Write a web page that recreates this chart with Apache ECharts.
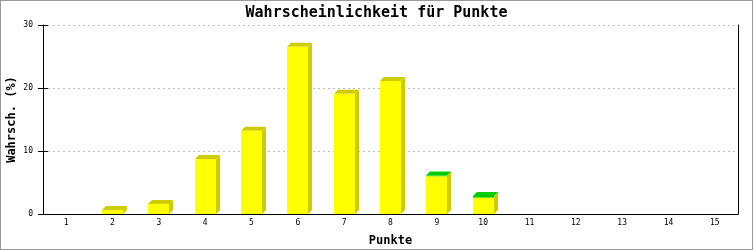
<!DOCTYPE html>
<html>
<head>
<meta charset="utf-8">
<script src="https://cdn.jsdelivr.net/npm/echarts@6/dist/echarts.min.js"></script>
<style>
html,body{margin:0;padding:0;background:#fff;}
#wrap{width:753px;height:250px;box-sizing:border-box;border:1px solid #999;position:relative;overflow:hidden;}
#c{position:absolute;left:-1px;top:-1px;width:753px;height:250px;}
</style>
</head>
<body>
<div id="wrap"><div id="c"></div></div>
<script>
const titleText = 'Wahrscheinlichkeit für Punkte';
const xName = 'Punkte';
const yName = 'Wahrsch. (%)';
const categories = ['1','2','3','4','5','6','7','8','9','10','11','12','13','14','15'];
const yellowValues = [0, 0.64, 1.6, 8.75, 13.2, 26.55, 19.1, 21.1, 6.0, 2.6, 0, 0, 0, 0, 0];
const greenValues  = [0, 0, 0, 0, 0, 0, 0, 0, 0.1, 0.27, 0, 0, 0, 0, 0];
const yTicks = [0, 10, 20, 30];

const mono = '"DejaVu Sans Mono", "Liberation Mono", monospace';
const data = categories.map((c, i) => [c, yellowValues[i], greenValues[i]]);

const chart = echarts.init(document.getElementById('c'), null, {renderer: 'canvas'});
const yMin = yTicks[0], yMax = yTicks[yTicks.length - 1], yInt = yTicks[1] - yTicks[0];

chart.setOption({
  animation: false,
  backgroundColor: '#fff',
  title: {
    text: titleText, left: 'center', top: 6, padding: 0,
    textStyle: {fontFamily: mono, fontWeight: 'bold', fontSize: 15, color: '#000'}
  },
  grid: {left: 43, right: 15, top: 25, bottom: 36, containLabel: false, outerBoundsMode: 'none'},
  xAxis: {
    type: 'category', data: categories, boundaryGap: true,
    name: xName, nameLocation: 'middle', nameGap: 21, nameMoveOverlap: false,
    nameTextStyle: {fontFamily: mono, fontWeight: 'bold', fontSize: 12, color: '#000'},
    axisLine: {show: true, lineStyle: {color: '#000', width: 1}},
    axisTick: {show: false},
    axisLabel: {fontFamily: mono, fontSize: 8, color: '#000', margin: 5},
    splitLine: {show: false}
  },
  yAxis: [{
    type: 'value', min: yMin, max: yMax, interval: yInt, position: 'left',
    name: yName, nameLocation: 'middle', nameGap: 25, nameRotate: 90, nameMoveOverlap: false,
    nameTextStyle: {fontFamily: mono, fontWeight: 'bold', fontSize: 12, color: '#000'},
    axisLine: {show: true, lineStyle: {color: '#000', width: 1}},
    axisTick: {show: true, inside: false, length: 5, lineStyle: {color: '#000'}},
    axisLabel: {fontFamily: mono, fontSize: 8, color: '#000', margin: 10},
    splitLine: {show: true, lineStyle: {color: '#bbb', type: [2, 3], width: 1}}
  }, {
    type: 'value', min: yMin, max: yMax, interval: yInt, position: 'left', offset: 0,
    axisLine: {show: false},
    axisTick: {show: true, inside: true, length: 5, lineStyle: {color: '#000'}},
    axisLabel: {show: false}, splitLine: {show: false}
  }, {
    type: 'value', min: yMin, max: yMax, interval: yInt, position: 'right', offset: 0,
    axisLine: {show: true, lineStyle: {color: '#000', width: 1}},
    axisTick: {show: false}, axisLabel: {show: false}, splitLine: {show: false}
  }],
  series: [{
    type: 'custom',
    data: data,
    encode: {x: 0, y: 1},
    renderItem: function (params, api) {
      const yv = api.value(1), gv = api.value(2);
      if (yv + gv <= 0) return null;
      const base = api.coord([api.value(0), 0]);
      const yTop = api.coord([api.value(0), yv])[1];
      const gTop = api.coord([api.value(0), yv + gv])[1];
      const w = 21, d = 4;
      const x0 = Math.round(base[0] - w / 2), x1 = x0 + w;
      const by = base[1];
      const topColor = gv > 0 ? '#00cc00' : '#cccc00';
      const children = [
        {type: 'polygon', shape: {points: [[x1, gTop], [x1 + d, gTop - d], [x1 + d, by - d], [x1, by]]}, style: {fill: '#cccc00'}},
        {type: 'polygon', shape: {points: [[x0, gTop], [x0 + d, gTop - d], [x1 + d, gTop - d], [x1, gTop]]}, style: {fill: topColor}},
        {type: 'rect', shape: {x: x0, y: yTop, width: w, height: by - yTop}, style: {fill: '#ffff00'}}
      ];
      if (gv > 0) {
        children.push({type: 'rect', shape: {x: x0, y: gTop, width: w, height: yTop - gTop}, style: {fill: '#00cc00'}});
      }
      return {type: 'group', children: children};
    }
  }]
});
</script>
</body>
</html>
